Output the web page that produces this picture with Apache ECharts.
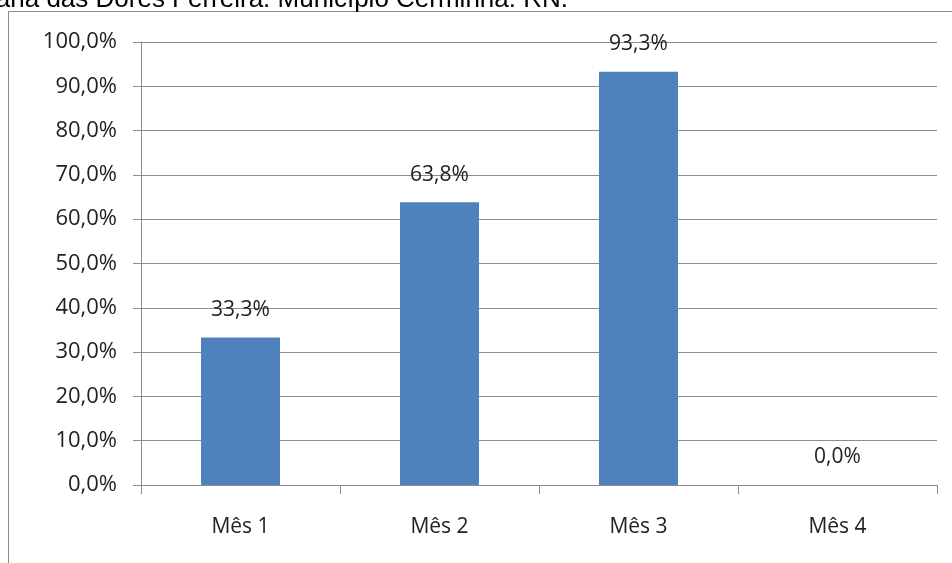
<!DOCTYPE html>
<html>
<head>
<meta charset="utf-8">
<style>
  html, body { margin: 0; padding: 0; background: #ffffff; }
  #chart { width: 952px; height: 563px; }
</style>
<script src="https://cdn.jsdelivr.net/npm/echarts@6/dist/echarts.min.js"></script>
</head>
<body>
<div id="chart"></div>
<script>
// Monthly percentages
const categories = ['Mês 1', 'Mês 2', 'Mês 3', 'Mês 4'];
const values = [33.3, 63.8, 93.3, 0.0];
const captionText = 'ana das Dores Ferreira. Município Cerminha. RN.';

const fmtPct = v => v.toFixed(1).replace('.', ',') + '%';
const FONT = '"Open Sans", sans-serif';
const GRAY = '#8c8c8c';

const chart = echarts.init(document.getElementById('chart'), null, { renderer: 'canvas' });

chart.setOption({
  animation: false,
  backgroundColor: '#ffffff',
  grid: { left: 141, right: 15, top: 42, bottom: 78, containLabel: false },
  xAxis: {
    type: 'category',
    data: categories,
    boundaryGap: true,
    axisLine: { show: true, lineStyle: { color: GRAY, width: 1 } },
    axisTick: { show: true, length: 9, lineStyle: { color: GRAY } },
    axisLabel: { color: '#222', fontFamily: FONT, fontSize: 21, margin: 32 },
    splitLine: { show: false }
  },
  yAxis: {
    type: 'value',
    min: 0,
    max: 100,
    interval: 10,
    axisLine: { show: true, lineStyle: { color: GRAY, width: 1 } },
    axisTick: { show: true, length: 8, lineStyle: { color: GRAY } },
    axisLabel: {
      color: '#222', fontFamily: FONT, fontSize: 22, margin: 24,
      formatter: v => fmtPct(v)
    },
    splitLine: { show: true, lineStyle: { color: GRAY, width: 1 } }
  },
  series: [{
    type: 'bar',
    data: values,
    barWidth: 79,
    itemStyle: { color: '#4f81bd' },
    label: {
      show: true,
      position: 'top',
      distance: 17,
      color: '#222',
      fontFamily: FONT,
      fontSize: 21,
      formatter: p => fmtPct(p.value)
    }
  }],
  graphic: [
    {
      type: 'polyline',
      shape: { points: [[8.5, 563], [8.5, 11.5], [952, 11.5]] },
      style: { stroke: GRAY, lineWidth: 1, fill: null },
      silent: true
    },
    {
      type: 'text',
      x: 568,
      y: 13,
      style: {
        text: captionText,
        fill: '#000',
        font: '26px "Liberation Sans", Arial, sans-serif',
        align: 'right',
        verticalAlign: 'bottom'
      },
      silent: true
    }
  ]
});
</script>
</body>
</html>
